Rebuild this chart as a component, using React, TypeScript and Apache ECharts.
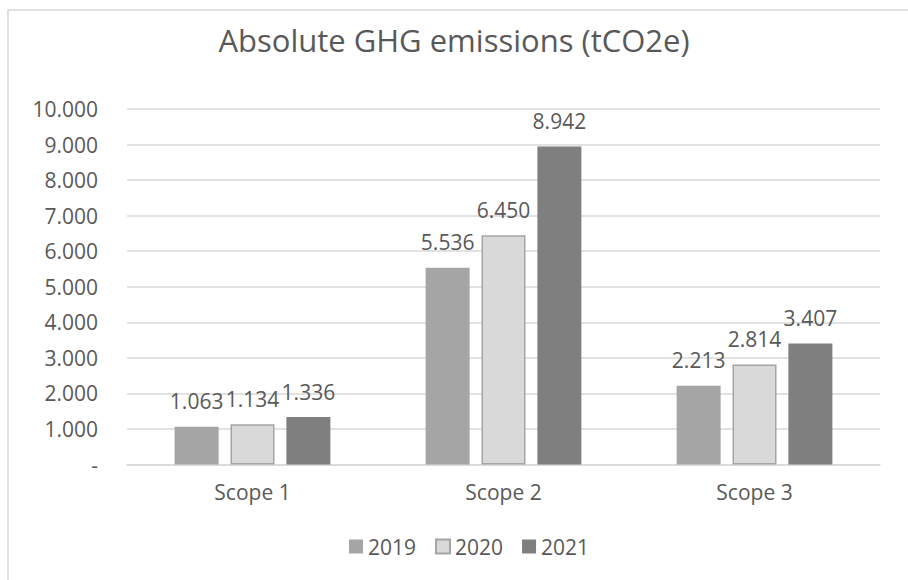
import React, { useEffect, useRef } from "react";
import * as echarts from "echarts";

const categories = ["Scope 1", "Scope 2", "Scope 3"];
const seriesNames = ["2019", "2020", "2021"];
const values2019 = [1063, 5536, 2213];
const values2020 = [1134, 6450, 2814];
const values2021 = [1336, 8942, 3407];
const yTicks = { min: 0, max: 10000, interval: 1000 };

const fmt = (v: number) => {
  if (v === 0) return "-";
  return String(Math.round(v)).replace(/\B(?=(\d{3})+(?!\d))/g, ".");
};

const FONT = "Open Sans";
const TXT = "#595959";
const FS = 21;

export default function App() {
  const ref = useRef<HTMLDivElement>(null);
  useEffect(() => {
    if (!ref.current) return;
    const chart = echarts.init(ref.current, undefined, { renderer: "svg" });
    const label = {
      show: true,
      position: "top",
      distance: 15,
      color: TXT,
      fontFamily: FONT,
      fontSize: FS,
      formatter: (p: any) => fmt(p.value),
    };
    chart.setOption({
      animation: false,
      backgroundColor: "#ffffff",
      textStyle: { fontFamily: FONT },
      title: {
        text: "Absolute GHG emissions (tCO2e)",
        left: "center",
        top: 19,
        textStyle: { fontFamily: FONT, fontSize: 31, fontWeight: "normal", color: TXT },
      },
      graphic: [
        {
          type: "rect",
          shape: { x: 8, y: 10, width: 930, height: 620 },
          style: { fill: "none", stroke: "#d9d9d9", lineWidth: 1.5 },
          silent: true,
        },
      ],
      legend: {
        data: seriesNames,
        bottom: 18,
        left: 344,
        icon: "rect",
        itemWidth: 14,
        itemHeight: 14,
        itemGap: 19,
        textStyle: { fontFamily: FONT, fontSize: FS, color: TXT },
      },
      grid: { left: 127, right: 28, top: 109, bottom: 115.5, containLabel: false },
      xAxis: {
        type: "category",
        data: categories,
        axisLine: { lineStyle: { color: "#d9d9d9", width: 1.5 } },
        axisTick: { show: false },
        axisLabel: { color: TXT, fontFamily: FONT, fontSize: FS, margin: 17 },
      },
      yAxis: {
        type: "value",
        min: yTicks.min,
        max: yTicks.max,
        interval: yTicks.interval,
        axisLine: { show: false },
        axisTick: { show: false },
        splitLine: { lineStyle: { color: "#d9d9d9", width: 1.5 } },
        axisLabel: { color: TXT, fontFamily: FONT, fontSize: FS, margin: 29, formatter: fmt },
      },
      series: [
        {
          name: seriesNames[0],
          type: "bar",
          data: values2019,
          barWidth: 44,
          barGap: "27%",
          itemStyle: { color: "#a5a5a5" },
          label,
        },
        {
          name: seriesNames[1],
          type: "bar",
          data: values2020,
          barWidth: 44,
          barGap: "27%",
          itemStyle: { color: "#d9d9d9", borderColor: "#a5a5a5", borderWidth: 1.5 },
          label,
        },
        {
          name: seriesNames[2],
          type: "bar",
          data: values2021,
          barWidth: 44,
          barGap: "27%",
          itemStyle: { color: "#7f7f7f" },
          label,
        },
      ],
    });
    return () => chart.dispose();
  }, []);
  return (
    <div
      ref={ref}
      style={{ position: "fixed", left: 0, top: 0, width: 908, height: 580 }}
    />
  );
}
